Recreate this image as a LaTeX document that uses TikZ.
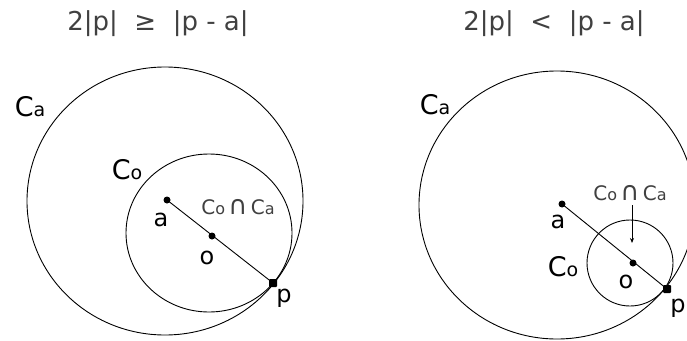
\documentclass[tikz,border=0pt]{standalone}
\usepackage{fontspec}
\setmainfont{DejaVu Sans}
\usetikzlibrary{arrows.meta}
\begin{document}
\begin{tikzpicture}[x=1pt,y=-1pt,
  circ/.style={draw=black,line width=0.9pt},
  seg/.style={draw=black,line width=0.9pt},
  dot/.style={circle,fill=black,inner sep=0pt,minimum size=7pt},
  pdot/.style={rectangle,rounded corners=1pt,fill=black,inner sep=0pt,minimum size=8pt},
  lbl/.style={inner sep=0pt,text=black,font=\fontsize{24}{27}\selectfont},
  big/.style={inner sep=0pt,text=black,font=\fontsize{27}{30}\selectfont},
  mid/.style={inner sep=0pt,text=black!75,font=\fontsize{20}{23}\selectfont},
  ttl/.style={inner sep=0pt,text=black!75,font=\fontsize{26}{29}\selectfont}]
\newcommand{\smallsub}[1]{{\fontsize{19}{21}\selectfont #1}}
\newcommand{\midsub}[1]{{\fontsize{16}{18}\selectfont #1}}
\newcommand{\capsym}{{\fontsize{26}{28}\selectfont ∩}}
\fill[white] (0,0) rectangle (687,340);
\useasboundingbox (0,0) rectangle (687,340);

% ---------- left ----------
\node[ttl] (title1) at (158,24) {2|p|\ \ ≥\ \ |p - a|};
\draw[circ] (165,201) ellipse [x radius=138, y radius=134];
\draw[circ] (209,233) ellipse [x radius=83, y radius=79];
\node[dot] (a1) at (167,200) {};
\node[dot] (o1) at (212,236) {};
\node[pdot] (p1) at (273,283) {};
\draw[seg] (a1.center) -- (p1.center);
\node[big] (ca1) at (30,107) {C\smallsub{a}};
\node[big] (c01) at (127,170) {C\smallsub{o}};
\node[lbl] (la1) at (161,220) {a};
\node[lbl] (lo1) at (207,258) {o};
\node[lbl] (lp1) at (284,298) {p};
\node[mid] (int1) at (238,207) {C\midsub{o}\,\capsym\,C\midsub{a}};

% ---------- right ----------
\node[ttl] (title2) at (554,24) {2|p|\ \ <\ \ |p - a|};
\draw[circ] (557,205) ellipse [x radius=138, y radius=134];
\draw[circ] (630,263) ellipse [x radius=43, y radius=43];
\node[dot] (a2) at (562,204) {};
\node[dot] (o2) at (633,263) {};
\node[pdot] (p2) at (667,289) {};
\draw[seg] (a2.center) -- (p2.center);
\node[big] (ca2) at (435,105) {C\smallsub{a}};
\node[big] (c02) at (563,267) {C\smallsub{o}};
\node[lbl] (la2) at (558,222) {a};
\node[lbl] (lo2) at (626,282) {o};
\node[lbl] (lp2) at (678,308) {p};
\node[mid] (int2) at (630,193) {C\midsub{o}\,\capsym\,C\midsub{a}};
\coordinate (arrTop) at (632,205);
\coordinate (arrEnd) at (632,243);
\draw[seg,-{Stealth[length=5pt,width=4pt]}] (arrTop) -- (arrEnd);
\end{tikzpicture}
\end{document}
